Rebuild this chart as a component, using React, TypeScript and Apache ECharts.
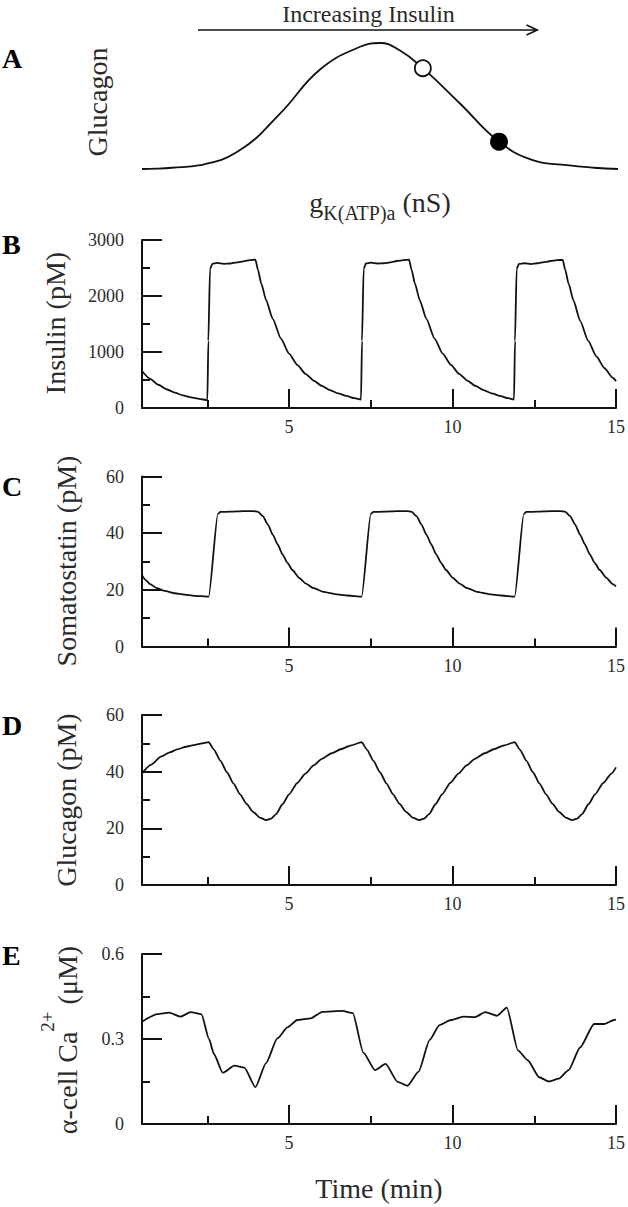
import React, { useEffect, useRef } from "react";
import * as echarts from "echarts";

const W = 628;
const H = 1207;
const FONT = "'Liberation Serif', 'Times New Roman', Times, serif";
const INK = "#111";
const TXT = "#2a2a2a";

// ---- Panel A: glucagon vs gK(ATP)a (arbitrary units)
const A_G = [0, 3, 6.3, 12.2, 20.6, 29, 37.4, 45.8, 50, 54.2, 59, 66.8, 75, 82.1, 89.3, 95, 100];
const A_GLUCAGON = [0, 0.003, 0.01, 0.03, 0.15, 0.44, 0.79, 0.97, 1.0, 0.94, 0.8, 0.52, 0.217, 0.07, 0.03, 0.01, 0];
const A_OPEN_POINT = [59, 0.8];
const A_FILLED_POINT = [75, 0.217];

// ---- Panel B: insulin (pM)
const B_TIME = [0.5, 0.75, 1.0, 1.25, 1.5, 1.75, 2.0, 2.25, 2.5, 2.53, 2.58, 2.65, 2.8, 3.0, 3.2, 3.4, 3.6, 3.8, 3.97, 4.05, 4.15, 4.3, 4.5, 4.75, 5.0, 5.25, 5.5, 5.75, 6.0, 6.25, 6.5, 6.75, 7.0, 7.2, 7.23, 7.28, 7.35, 7.5, 7.7, 7.9, 8.1, 8.3, 8.5, 8.67, 8.75, 8.85, 9.0, 9.2, 9.45, 9.7, 9.95, 10.2, 10.45, 10.7, 10.95, 11.2, 11.45, 11.7, 11.88, 11.91, 11.96, 12.03, 12.2, 12.4, 12.6, 12.8, 13.0, 13.2, 13.37, 13.45, 13.55, 13.7, 13.9, 14.15, 14.4, 14.65, 14.9, 15.0];
const B_INSULIN = [660, 520, 415, 335, 275, 225, 190, 162, 142, 1200, 2480, 2575, 2590, 2575, 2580, 2600, 2620, 2640, 2650, 2460, 2220, 1920, 1590, 1240, 970, 770, 610, 490, 395, 320, 260, 215, 175, 150, 1200, 2480, 2580, 2595, 2580, 2585, 2600, 2625, 2640, 2650, 2460, 2220, 1920, 1590, 1240, 970, 770, 610, 490, 395, 320, 260, 215, 175, 150, 1200, 2480, 2575, 2585, 2570, 2585, 2605, 2625, 2640, 2645, 2460, 2220, 1920, 1560, 1200, 920, 710, 540, 480];

// ---- Panel C: somatostatin (pM)
const C_TIME = [0.5, 0.6, 0.75, 0.95, 1.2, 1.5, 1.8, 2.1, 2.54, 2.82, 2.9, 3.2, 3.6, 3.9, 4.05, 4.2, 4.35, 4.5, 4.65, 4.8, 4.95, 5.1, 5.3, 5.5, 5.75, 6.05, 6.4, 6.8, 7.22, 7.5, 7.58, 7.9, 8.3, 8.6, 8.75, 8.9, 9.05, 9.2, 9.35, 9.5, 9.65, 9.8, 10.0, 10.2, 10.45, 10.75, 11.1, 11.5, 11.9, 12.18, 12.26, 12.6, 13.0, 13.3, 13.45, 13.6, 13.75, 13.9, 14.05, 14.2, 14.35, 14.5, 14.7, 14.9, 15.0];
const C_SOMATOSTATIN = [25.2, 23.6, 22.0, 20.6, 19.6, 18.8, 18.3, 17.9, 17.6, 46.8, 47.5, 47.6, 47.8, 47.8, 47.5, 46, 43, 39.5, 36, 32.5, 29.5, 27, 24.3, 22.3, 20.6, 19.3, 18.5, 18, 17.6, 46.8, 47.5, 47.6, 47.8, 47.8, 47.5, 46, 43, 39.5, 36, 32.5, 29.5, 27, 24.3, 22.3, 20.6, 19.3, 18.5, 18, 17.6, 46.8, 47.5, 47.6, 47.8, 47.8, 47.5, 46, 43, 39.5, 36, 32.5, 29.5, 27, 24.3, 22.0, 21.2];

// ---- Panel D: glucagon (pM)
const D_TIME = [0.5, 0.77, 1.08, 1.35, 1.58, 1.85, 2.08, 2.3, 2.54, 2.7, 2.9, 3.1, 3.3, 3.5, 3.7, 3.9, 4.1, 4.3, 4.45, 4.6, 4.8, 5.0, 5.25, 5.5, 5.75, 6.0, 6.3, 6.6, 6.9, 7.22, 7.38, 7.58, 7.78, 7.98, 8.18, 8.38, 8.58, 8.78, 8.98, 9.13, 9.28, 9.48, 9.68, 9.93, 10.18, 10.43, 10.68, 10.98, 11.28, 11.58, 11.9, 12.06, 12.26, 12.46, 12.66, 12.86, 13.06, 13.26, 13.46, 13.66, 13.81, 13.96, 14.16, 14.36, 14.61, 14.86, 15.0];
const D_GLUCAGON = [39.4, 42.4, 45.3, 46.8, 47.9, 48.8, 49.4, 49.9, 50.4, 47.8, 43.8, 39.8, 35.8, 32, 28.6, 25.8, 23.8, 22.9, 23.4, 25, 28.5, 32, 36, 39.3, 42.2, 44.5, 46.5, 48, 49.3, 50.4, 47.8, 43.8, 39.8, 35.8, 32, 28.6, 25.8, 23.8, 22.9, 23.4, 25, 28.5, 32, 36, 39.3, 42.2, 44.5, 46.5, 48, 49.3, 50.4, 47.8, 43.8, 39.8, 35.8, 32, 28.6, 25.8, 23.8, 22.9, 23.4, 25, 28.5, 32, 36, 39.3, 41.5];

// ---- Panel E: alpha-cell Ca2+ (uM)
const E_TIME = [0.5, 0.97, 1.33, 1.68, 1.99, 2.32, 2.55, 2.7, 2.97, 3.33, 3.63, 3.97, 4.29, 4.64, 4.95, 5.25, 5.66, 6.02, 6.63, 6.95, 7.27, 7.63, 7.95, 8.32, 8.62, 8.96, 9.3, 9.6, 9.95, 10.33, 10.69, 11.0, 11.36, 11.66, 12.0, 12.3, 12.65, 12.95, 13.25, 13.55, 13.9, 14.33, 14.64, 14.94, 15.0];
const E_CALCIUM = [0.361, 0.388, 0.393, 0.379, 0.395, 0.387, 0.3, 0.247, 0.181, 0.206, 0.199, 0.13, 0.214, 0.302, 0.341, 0.367, 0.373, 0.396, 0.399, 0.391, 0.252, 0.19, 0.212, 0.149, 0.135, 0.185, 0.297, 0.349, 0.367, 0.379, 0.377, 0.395, 0.382, 0.411, 0.26, 0.225, 0.165, 0.15, 0.16, 0.19, 0.27, 0.353, 0.353, 0.367, 0.368];

// ---- Axis ticks / labels
const X_MAJOR_TICKS = [5, 10, 15];
const X_MINOR_TICKS = [2.5, 7.5, 12.5];
const X_MIN = 0.5;
const X_MAX = 15;

const PANELS = [
  { letter: "B", title: "Insulin (pM)", max: 3000, interval: 1000, time: B_TIME, values: B_INSULIN },
  { letter: "C", title: "Somatostatin (pM)", max: 60, interval: 20, time: C_TIME, values: C_SOMATOSTATIN },
  { letter: "D", title: "Glucagon (pM)", max: 60, interval: 20, time: D_TIME, values: D_GLUCAGON },
  { letter: "E", title: "α-cell Ca{sup|2+} (μM)", max: 0.6, interval: 0.3, time: E_TIME, values: E_CALCIUM },
];

// layout (pixels)
const GRID_LEFT = 142;
const GRID_RIGHT = 9;
const PANEL_TOPS = [240, 476.5, 715, 954];
const PANEL_HEIGHTS = [168, 170, 170, 170];
const LETTER_Y = [244, 486, 725, 955];
const TITLE_X = [55, 66.5, 66.5, 67.5];
const TITLE_Y = [323, 561, 800, 1040];

const zip = (a: number[], b: number[]) => a.map((v, i) => [v, b[i]]);

function buildOption() {
  const grid: any[] = [{ left: GRID_LEFT, top: 43, width: 476, height: 126 }];
  const xAxis: any[] = [
    { type: "value", gridIndex: 0, min: 0, max: 100, show: false },
  ];
  const yAxis: any[] = [
    { type: "value", gridIndex: 0, min: 0, max: 1, show: false },
  ];
  const series: any[] = [
    {
      type: "line",
      xAxisIndex: 0,
      yAxisIndex: 0,
      data: zip(A_G, A_GLUCAGON),
      smooth: 0.45,
      symbol: "none",
      lineStyle: { color: INK, width: 1.8 },
      z: 2,
    },
    {
      type: "scatter",
      xAxisIndex: 0,
      yAxisIndex: 0,
      data: [A_OPEN_POINT],
      symbol: "circle",
      symbolSize: 16,
      itemStyle: { color: "#fff", borderColor: INK, borderWidth: 1.8, opacity: 1 },
      z: 3,
    },
    {
      type: "scatter",
      xAxisIndex: 0,
      yAxisIndex: 0,
      data: [A_FILLED_POINT],
      symbol: "circle",
      symbolSize: 18,
      itemStyle: { color: "#000", opacity: 1 },
      z: 3,
    },
  ];

  const axisLineStyle = { color: INK, width: 2 };
  const labelStyle = { fontFamily: FONT, fontSize: 18, color: TXT };

  PANELS.forEach((p, k) => {
    const gi = k + 1;
    grid.push({
      left: GRID_LEFT,
      right: GRID_RIGHT,
      top: PANEL_TOPS[k],
      height: PANEL_HEIGHTS[k],
    });
    xAxis.push({
      type: "value",
      gridIndex: gi,
      min: X_MIN,
      max: X_MAX,
      position: "bottom",
      axisLine: { show: true, onZero: false, lineStyle: axisLineStyle },
      axisTick: {
        show: true,
        inside: true,
        length: 19,
        customValues: X_MAJOR_TICKS,
        lineStyle: axisLineStyle,
      },
      axisLabel: {
        show: true,
        customValues: X_MAJOR_TICKS,
        margin: 10,
        ...labelStyle,
      },
      splitLine: { show: false },
    });
    xAxis.push({
      type: "value",
      gridIndex: gi,
      min: X_MIN,
      max: X_MAX,
      position: "bottom",
      axisLine: { show: false, onZero: false },
      axisTick: {
        show: true,
        inside: true,
        length: 8,
        customValues: X_MINOR_TICKS,
        lineStyle: axisLineStyle,
      },
      axisLabel: { show: false },
      splitLine: { show: false },
    });
    yAxis.push({
      type: "value",
      gridIndex: gi,
      min: 0,
      max: p.max,
      interval: p.interval,
      axisLine: { show: true, onZero: false, lineStyle: axisLineStyle },
      axisTick: { show: true, inside: true, length: 20, lineStyle: axisLineStyle },
      minorTick: { show: true, splitNumber: 2, length: 8, lineStyle: axisLineStyle },
      axisLabel: {
        show: true,
        margin: 18,
        ...labelStyle,
        formatter: (v: number) => String(Math.round(v * 100) / 100),
      },
      splitLine: { show: false },
      minorSplitLine: { show: false },
    });
    series.push({
      type: "line",
      xAxisIndex: 2 * k + 1,
      yAxisIndex: gi,
      data: zip(p.time, p.values),
      smooth: 0.2,
      smoothMonotone: "x",
      symbol: "none",
      lineStyle: { color: INK, width: 1.8 },
      clip: true,
    });
  });

  const letterStyle = (t: string) => ({
    text: t,
    fontFamily: FONT,
    fontSize: 28,
    fontWeight: "bold",
    fill: "#000",
    align: "left",
    verticalAlign: "middle",
    textAlign: "left",
    textVerticalAlign: "middle",
  });

  const graphic: any[] = [
    { type: "text", x: 2, y: 58.5, style: letterStyle("A") },
    {
      type: "text",
      x: 97.5,
      y: 102,
      rotation: Math.PI / 2,
      style: {
        text: "Glucagon",
        fontFamily: FONT,
        fontSize: 28,
        fill: TXT,
        align: "center",
        verticalAlign: "middle",
        textAlign: "center",
        textVerticalAlign: "middle",
      },
    },
    {
      type: "text",
      x: 368.5,
      y: 13.6,
      style: {
        text: "Increasing Insulin",
        fontFamily: FONT,
        fontSize: 24,
        fill: TXT,
        align: "center",
        verticalAlign: "middle",
        textAlign: "center",
        textVerticalAlign: "middle",
      },
    },
    {
      type: "line",
      shape: { x1: 198, y1: 30, x2: 536, y2: 30 },
      style: { stroke: INK, lineWidth: 1.6 },
    },
    {
      type: "polyline",
      shape: { points: [[526.5, 25], [537.3, 30], [526.5, 35]] },
      style: { stroke: INK, lineWidth: 1.6, fill: null },
    },
    {
      type: "text",
      x: 380,
      y: 202.5,
      style: {
        text: "g{sub|K(ATP)a} (nS)",
        fontFamily: FONT,
        fontSize: 28,
        fill: TXT,
        align: "center",
        verticalAlign: "middle",
        textAlign: "center",
        textVerticalAlign: "middle",
        rich: {
          sub: {
            fontFamily: FONT,
            fontSize: 20,
            lineHeight: 20,
            fill: TXT,
            padding: [20, 0, 0, 0],
          },
        },
      },
    },
    {
      type: "text",
      x: 379,
      y: 1188,
      style: {
        text: "Time (min)",
        fontFamily: FONT,
        fontSize: 28,
        fill: TXT,
        align: "center",
        verticalAlign: "middle",
        textAlign: "center",
        textVerticalAlign: "middle",
      },
    },
  ];

  PANELS.forEach((p, k) => {
    graphic.push({ type: "text", x: 2, y: LETTER_Y[k], style: letterStyle(p.letter) });
    graphic.push({
      type: "text",
      x: TITLE_X[k],
      y: TITLE_Y[k],
      rotation: Math.PI / 2,
      style: {
        text: p.title,
        fontFamily: FONT,
        fontSize: 28,
        fill: TXT,
        align: "center",
        verticalAlign: "middle",
        textAlign: "center",
        textVerticalAlign: "middle",
        rich: {
          sup: {
            fontFamily: FONT,
            fontSize: 19,
            lineHeight: 19,
            fill: TXT,
            padding: [0, 0, 40, 0],
          },
        },
      },
    });
  });

  return {
    animation: false,
    backgroundColor: "#fff",
    textStyle: { fontFamily: FONT },
    grid,
    xAxis,
    yAxis,
    series,
    graphic,
  };
}

export default function App() {
  const ref = useRef<HTMLDivElement | null>(null);
  useEffect(() => {
    if (!ref.current) return;
    const chart = echarts.init(ref.current, undefined, { renderer: "svg", width: W, height: H });
    chart.setOption(buildOption() as any);
    return () => chart.dispose();
  }, []);
  return (
    <div
      ref={ref}
      style={{ position: "fixed", left: 0, top: 0, width: W, height: H, background: "#fff" }}
    />
  );
}
